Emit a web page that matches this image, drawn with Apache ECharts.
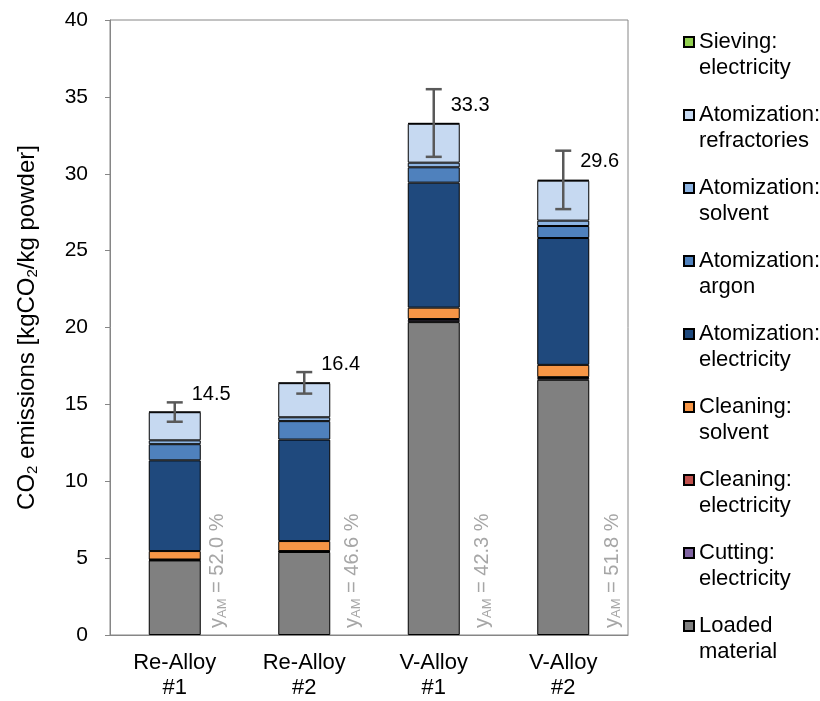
<!DOCTYPE html>
<html>
<head>
<meta charset="utf-8">
<script src="https://cdn.jsdelivr.net/npm/echarts@6/dist/echarts.min.js"></script>
<style>html,body{margin:0;padding:0;background:#fff}#c{width:820px;height:701px}</style>
</head>
<body>
<div id="c"></div>
<script>
// ---- data ----
const categories = ['Re-Alloy\n#1', 'Re-Alloy\n#2', 'V-Alloy\n#1', 'V-Alloy\n#2'];
const loadedMaterial     = [4.85, 5.40, 20.35, 16.60];
const cuttingElectricity = [0.03, 0.03, 0.15, 0.12];
const cleaningElectricity= [0.03, 0.03, 0.05, 0.05];
const cleaningSolvent    = [0.55, 0.65, 0.74, 0.80];
const atomElectricity    = [5.90, 6.60, 8.13, 8.25];
const atomArgon          = [1.05, 1.20, 1.00, 0.78];
const atomSolvent        = [0.25, 0.25, 0.30, 0.35];
const atomRefractories   = [1.83, 2.22, 2.53, 2.60];
const sievingElectricity = [0.03, 0.03, 0.05, 0.05];
const totals = [14.5, 16.4, 33.3, 29.6];
const errors = [0.63, 0.70, 2.20, 1.90];
const yamValues = ['52.0', '46.6', '42.3', '51.8'];
const yTicks = {min: 0, max: 40, interval: 5};

// ---- layout/style ----
const FONT = "'Liberation Sans', Arial, sans-serif";
const yamDx = [43, 48, 49, 49];

const seriesDefs = [
  {name: 'Loaded\nmaterial', data: loadedMaterial, color: '#808080'},
  {name: 'Cutting:\nelectricity', data: cuttingElectricity, color: '#8064A2'},
  {name: 'Cleaning:\nelectricity', data: cleaningElectricity, color: '#C0504D'},
  {name: 'Cleaning:\nsolvent', data: cleaningSolvent, color: '#F79646'},
  {name: 'Atomization:\nelectricity', data: atomElectricity, color: '#1F497D'},
  {name: 'Atomization:\nargon', data: atomArgon, color: '#4F81BD'},
  {name: 'Atomization:\nsolvent', data: atomSolvent, color: '#8DB4E2'},
  {name: 'Atomization:\nrefractories', data: atomRefractories, color: '#C6D9F1'},
  {name: 'Sieving:\nelectricity', data: sievingElectricity, color: '#92D050'}
];

const chart = echarts.init(document.getElementById('c'), null, {renderer: 'canvas'});

const barSeries = seriesDefs.map(d => ({
  name: d.name,
  type: 'bar',
  stack: 'total',
  data: d.data,
  barWidth: 52,
  itemStyle: {color: d.color, borderColor: '#000', borderWidth: 1},
  emphasis: {disabled: true},
  silent: true
}));

const errorSeries = {
  type: 'custom',
  name: 'err',
  silent: true,
  z: 10,
  data: totals.map((t, i) => [i, t, errors[i]]),
  renderItem: function (params, api) {
    const i = api.value(0), t = api.value(1), e = api.value(2);
    const hi = api.coord([i, t + e]);
    const lo = api.coord([i, t - e]);
    const top = api.coord([i, t]);
    const cw = 8;
    const st = {stroke: '#595959', lineWidth: 2.5};
    return {
      type: 'group',
      children: [
        {type: 'line', shape: {x1: hi[0], y1: hi[1], x2: lo[0], y2: lo[1]}, style: st},
        {type: 'line', shape: {x1: hi[0] - cw, y1: hi[1], x2: hi[0] + cw, y2: hi[1]}, style: st},
        {type: 'line', shape: {x1: lo[0] - cw, y1: lo[1], x2: lo[0] + cw, y2: lo[1]}, style: st},
        {type: 'text', x: top[0] + 17, y: top[1] - 18,
          style: {text: t.toFixed(1), fill: '#000', font: '20px ' + FONT, align: 'left', verticalAlign: 'middle'}}
      ]
    };
  }
};

const yamSeries = {
  type: 'custom',
  name: 'yam',
  silent: true,
  z: 10,
  data: yamValues.map((v, i) => [i, 0]),
  renderItem: function (params, api) {
    const idx = params.dataIndex;
    const p = api.coord([api.value(0), 0]);
    return {
      type: 'text',
      x: p[0] + yamDx[idx],
      y: p[1] - 7,
      rotation: Math.PI / 2,
      style: {
        text: '{t|y}{s|AM}{t| = ' + yamValues[idx] + ' %}',
        align: 'left',
        verticalAlign: 'middle',
        fill: '#A6A6A6',
        rich: {
          t: {fontSize: 20, fontFamily: FONT, fill: '#A6A6A6', lineHeight: 22},
          s: {fontSize: 13, fontFamily: FONT, fill: '#A6A6A6', lineHeight: 14, verticalAlign: 'bottom'}
        }
      }
    };
  }
};

chart.setOption({
  animation: false,
  backgroundColor: '#fff',
  textStyle: {fontFamily: FONT},
  grid: {left: 110, right: 192, top: 20, bottom: 66, show: true, borderColor: '#868686', borderWidth: 1, containLabel: false},
  legend: {
    orient: 'vertical',
    left: 683,
    top: 3,
    padding: 0,
    itemWidth: 10,
    itemHeight: 10,
    itemGap: -5,
    icon: 'rect',
    selectedMode: false,
    data: seriesDefs.map(d => d.name).reverse(),
    formatter: name => '\n' + name,
    textStyle: {fontSize: 22, lineHeight: 26, color: '#000', fontFamily: FONT}
  },
  xAxis: {
    type: 'category',
    data: categories,
    axisLine: {lineStyle: {color: '#868686', width: 1}},
    axisTick: {show: false},
    axisLabel: {fontSize: 22, lineHeight: 25, color: '#000', margin: 15, fontFamily: FONT}
  },
  yAxis: {
    type: 'value',
    min: yTicks.min,
    max: yTicks.max,
    interval: yTicks.interval,
    name: '{t|CO}{s|2}{t| emissions [kgCO}{s|2}{t|/kg powder]}',
    nameLocation: 'middle',
    nameGap: 70,
    nameRotate: 90,
    nameTextStyle: {
      rich: {
        t: {fontSize: 24, fontFamily: FONT, color: '#000', lineHeight: 26},
        s: {fontSize: 15, fontFamily: FONT, color: '#000', lineHeight: 15, verticalAlign: 'bottom'}
      }
    },
    axisLine: {show: true, lineStyle: {color: '#868686', width: 1}},
    axisTick: {show: true, length: 5, lineStyle: {color: '#868686'}},
    splitLine: {show: false},
    axisLabel: {fontSize: 21, color: '#000', margin: 22, fontFamily: FONT}
  },
  series: [...barSeries, errorSeries, yamSeries]
});
</script>
</body>
</html>
